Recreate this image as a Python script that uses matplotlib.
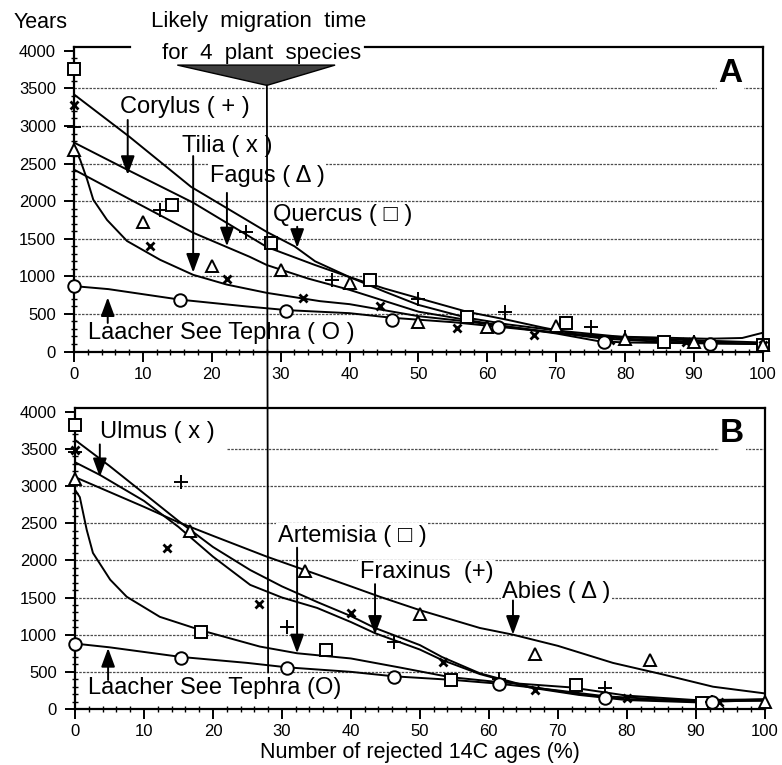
#Migration time of plant species from rejected 14C ages
import numpy as np
import matplotlib.pyplot as plt
from matplotlib.patches import Polygon, ConnectionPatch

plt.rcParams['font.family'] = ['Liberation Sans', 'DejaVu Sans']

# ---- Panel A data ----
quercus_x = [0, 14.3, 28.6, 42.9, 57.1, 71.4, 85.7, 100]
quercus_y = [3760, 1950, 1440, 950, 460, 380, 120, 90]
corylus_x = [0, 12.5, 25, 37.5, 50, 62.5, 75, 80, 90]
corylus_y = [2980, 1880, 1590, 950, 700, 520, 330, 190, 125]
tilia_x = [0, 11.1, 22.2, 33.3, 44.4, 55.6, 66.7, 77.8, 88.9, 100]
tilia_y = [3280, 1410, 960, 710, 610, 310, 220, 150, 120, 90]
fagus_x = [0, 10, 20, 30, 40, 50, 60, 70, 80, 90, 100]
fagus_y = [2680, 1720, 1140, 1090, 910, 390, 330, 340, 170, 120, 90]
laacher_x = [0, 15.4, 30.8, 46.2, 61.5, 76.9, 92.3]
laacher_a_y = [870, 690, 540, 420, 320, 130, 100]

# fitted curves, panel A
quercus_fit_x = [0, 8, 17, 28, 32, 35, 40, 45, 50, 57, 63, 68, 73, 78, 83, 92, 97, 100]
quercus_fit_y = [3420, 2860, 2190, 1590, 1400, 1200, 990, 840, 710, 530, 420, 320, 230, 200, 190, 170, 180, 250]
corylus_fit_x = [0, 7.7, 17.3, 28, 35, 40, 45, 50, 57, 63, 70, 80, 90, 100]
corylus_fit_y = [2780, 2420, 1980, 1390, 1150, 990, 800, 620, 450, 360, 280, 190, 150, 120]
fagus_fit_x = [0, 8, 17.3, 25.5, 28, 34, 40, 50, 57, 63, 70, 80, 90, 100]
fagus_fit_y = [2420, 2030, 1580, 1260, 1150, 970, 820, 530, 420, 330, 250, 170, 130, 100]
tilia_fit_x = [0, 0.9, 1.9, 2.8, 4.8, 7.7, 12.5, 17.3, 22.2, 28, 35.7, 40, 50, 57, 63, 70, 76, 80, 90, 100]
tilia_fit_y = [2730, 2550, 2290, 2020, 1750, 1470, 1220, 1020, 890, 780, 670, 630, 470, 400, 330, 240, 140, 120, 110, 100]
laacher_a_fit_x = [0, 5, 15.4, 25, 31, 40, 46, 55, 61.5, 70, 77, 85, 92, 100]
laacher_a_fit_y = [870, 830, 690, 600, 550, 510, 450, 390, 330, 250, 170, 130, 110, 100]

# ---- Panel B data ----
artemisia_x = [0, 18.2, 36.4, 54.5, 72.7, 90.9]
artemisia_y = [3820, 1040, 800, 390, 320, 80]
ulmus_x = [0, 13.3, 26.7, 40, 53.3, 66.7, 80, 93.3]
ulmus_y = [3480, 2160, 1410, 1290, 630, 250, 150, 90]
fraxinus_x = [0, 15.4, 30.8, 46.2, 61.5, 76.9, 92.3]
fraxinus_y = [3460, 3050, 1100, 900, 400, 280, 100]
abies_x = [0, 16.7, 33.3, 50, 66.7, 83.3, 100]
abies_y = [3100, 2390, 1860, 1280, 740, 660, 90]
laacher_b_y = [880, 690, 550, 430, 340, 150, 95]

# fitted curves, panel B
fraxinus_fit_x = [0, 5, 10, 15, 20, 25.4, 30, 35.1, 40, 43.5, 50, 53.2, 58.7, 65.9, 73, 80, 90, 100]
fraxinus_fit_y = [3620, 3270, 2900, 2530, 2180, 1870, 1650, 1440, 1250, 1090, 860, 700, 480, 300, 200, 130, 100, 130]
ulmus_fit_x = [0, 3.6, 10, 15, 20, 25.4, 30, 35.1, 40, 43.5, 50, 53.2, 58.7, 65.9, 73, 80, 90, 100]
ulmus_fit_y = [3320, 3150, 2800, 2450, 2050, 1670, 1500, 1360, 1170, 1020, 800, 660, 470, 290, 190, 120, 90, 120]
abies_fit_x = [0, 5, 10, 14.8, 20, 27.8, 33.3, 40, 44.2, 50, 58.7, 63.5, 70, 78, 85, 92.5, 100]
abies_fit_y = [3120, 2920, 2720, 2520, 2330, 2050, 1870, 1650, 1510, 1330, 1090, 1000, 850, 620, 470, 300, 210]
artemisia_fit_x = [0, 0.7, 1.7, 2.6, 5.1, 7.5, 12.3, 18.6, 26.8, 32.2, 40, 47, 54.3, 61.6, 72, 80, 90, 100]
artemisia_fit_y = [2950, 2850, 2410, 2100, 1740, 1510, 1240, 1050, 840, 750, 680, 560, 430, 360, 290, 180, 120, 130]
laacher_b_fit_x = [0, 5, 15.4, 25, 30.8, 40, 46.2, 55, 61.5, 70, 77, 85, 92, 100]
laacher_b_fit_y = [880, 830, 700, 620, 560, 500, 440, 390, 340, 250, 170, 130, 110, 110]

# likely migration time marker
migration_x = 28
wedge_x = [15, 37.9, 28]
wedge_y = [3810, 3810, 3540]

fig = plt.figure(figsize=(7.82, 7.65), dpi=100)
ax1 = fig.add_axes([0.0946, 0.5405, 0.881, 0.398])
ax2 = fig.add_axes([0.0959, 0.0732, 0.882, 0.3935])


def style_axes(ax, grid_start):
    ax.set_xlim(0, 100)
    ax.set_ylim(0, 4050)
    ax.set_xticks(np.arange(0, 101, 10))
    ax.set_xticks(np.arange(0, 101, 2), minor=True)
    ax.set_yticks(np.arange(0, 4001, 500))
    ax.set_yticks(np.arange(0, 4001, 100), minor=True)
    ax.tick_params(which='major', direction='out', length=7, width=1.4, labelsize=12)
    ax.tick_params(axis='y', which='major', pad=6)
    ax.tick_params(axis='x', which='major', pad=4)
    ax.tick_params(which='minor', direction='inout', length=4.5, width=1)
    for s in ax.spines.values():
        s.set_linewidth(1.6)
    for g in range(500, 4000, 500):
        ax.axhline(g, xmin=grid_start.get(g, 0), color='0.3', lw=0.9, ls=(0, (2, 1)), zorder=0)


def label(ax, txt, x, y, ax_x, tail, tip):
    ax.text(x, y, txt, fontsize=17, ha='left', va='center', zorder=1,
            bbox=dict(fc='white', ec='none', pad=1))
    ax.annotate('', xy=(ax_x, tip), xytext=(ax_x, tail), zorder=4,
                arrowprops=dict(arrowstyle='-|>,head_length=0.95,head_width=0.35',
                                color='black', lw=1.4, mutation_scale=12, shrinkA=0, shrinkB=0))


mk = dict(color='black', ls='none', clip_on=False, zorder=3)
open_mk = dict(mfc='white', mec='black', mew=1.4, **mk)

# Panel A
style_axes(ax1, {})
ax1.spines['top'].set_visible(False)
ax1.plot([0, 0.081], [1, 1], transform=ax1.transAxes, color='black', lw=1.6, clip_on=False)
ax1.plot([0.422, 1], [1, 1], transform=ax1.transAxes, color='black', lw=1.6, clip_on=False)

for fx, fy in [(quercus_fit_x, quercus_fit_y), (corylus_fit_x, corylus_fit_y),
               (fagus_fit_x, fagus_fit_y), (tilia_fit_x, tilia_fit_y),
               (laacher_a_fit_x, laacher_a_fit_y)]:
    ax1.plot(fx, fy, color='black', lw=1.4, zorder=2)

ax1.plot(quercus_x, quercus_y, marker='s', ms=8, **open_mk)
ax1.plot(corylus_x, corylus_y, marker='+', ms=10, mew=1.4, **mk)
ax1.plot(tilia_x, tilia_y, marker='x', ms=5.5, mew=2, **mk)
ax1.plot(fagus_x, fagus_y, marker='^', ms=8, **open_mk)
ax1.plot(laacher_x, laacher_a_y, marker='o', ms=9, **open_mk)

label(ax1, 'Corylus ( + )', 6.7, 3250, 7.8, 3080, 2350)
label(ax1, 'Tilia ( x )', 15.7, 2730, 17.3, 2600, 1050)
label(ax1, 'Fagus ( Δ )', 19.7, 2340, 22.2, 2110, 1400)
label(ax1, 'Quercus ( □ )', 28.9, 1810, 32.4, 1660, 1380)
label(ax1, 'Laacher See Tephra ( O )', 2.0, 245, 4.9, 380, 720)
ax1.text(95.3, 3700, 'A', fontsize=24, fontweight='bold', ha='center', va='center',
         zorder=1, bbox=dict(fc='white', ec='none', pad=1))

ax1.add_patch(Polygon(list(zip(wedge_x, wedge_y)), closed=True, fc='0.25', ec='black',
                      lw=1, clip_on=False, zorder=5))

# Panel B
style_axes(ax2, {3500: 0.22})

for fx, fy in [(fraxinus_fit_x, fraxinus_fit_y), (ulmus_fit_x, ulmus_fit_y),
               (abies_fit_x, abies_fit_y), (artemisia_fit_x, artemisia_fit_y),
               (laacher_b_fit_x, laacher_b_fit_y)]:
    ax2.plot(fx, fy, color='black', lw=1.4, zorder=2)

ax2.plot(artemisia_x, artemisia_y, marker='s', ms=8, **open_mk)
ax2.plot(ulmus_x, ulmus_y, marker='x', ms=5.5, mew=2, **mk)
ax2.plot(fraxinus_x, fraxinus_y, marker='+', ms=10, mew=1.4, **mk)
ax2.plot(abies_x, abies_y, marker='^', ms=8, **open_mk)
ax2.plot(laacher_x, laacher_b_y, marker='o', ms=9, **open_mk)

label(ax2, 'Ulmus ( x )', 3.6, 3730, 3.6, 3560, 3120)
label(ax2, 'Artemisia ( □ )', 29.4, 2330, 32.2, 2170, 750)
label(ax2, 'Fraxinus  (+)', 41.3, 1840, 43.5, 1680, 1000)
label(ax2, 'Abies ( Δ )', 61.9, 1570, 63.5, 1460, 1000)
label(ax2, 'Laacher See Tephra (O)', 1.9, 280, 4.8, 390, 820)
ax2.text(95.3, 3700, 'B', fontsize=24, fontweight='bold', ha='center', va='center',
         zorder=1, bbox=dict(fc='white', ec='none', pad=1))
ax2.set_xlabel('Number of rejected 14C ages (%)', fontsize=15.5, labelpad=2)

# vertical line for the likely migration time, through both panels
con = ConnectionPatch(xyA=(migration_x, wedge_y[2]), coordsA=ax1.transData,
                      xyB=(migration_x, 490), coordsB=ax2.transData,
                      color='black', lw=1.3, zorder=6)
fig.add_artist(con)

fig.text(41 / 782, 1 - 22 / 765, 'Years', fontsize=15.5, ha='center', va='center')
fig.text(259 / 782, 1 - 22 / 765, 'Likely  migration  time', fontsize=16, ha='center', va='center')
fig.text(262 / 782, 1 - 54 / 765, 'for  4  plant  species', fontsize=16, ha='center', va='center')

fig.savefig('out.png', dpi=100)
